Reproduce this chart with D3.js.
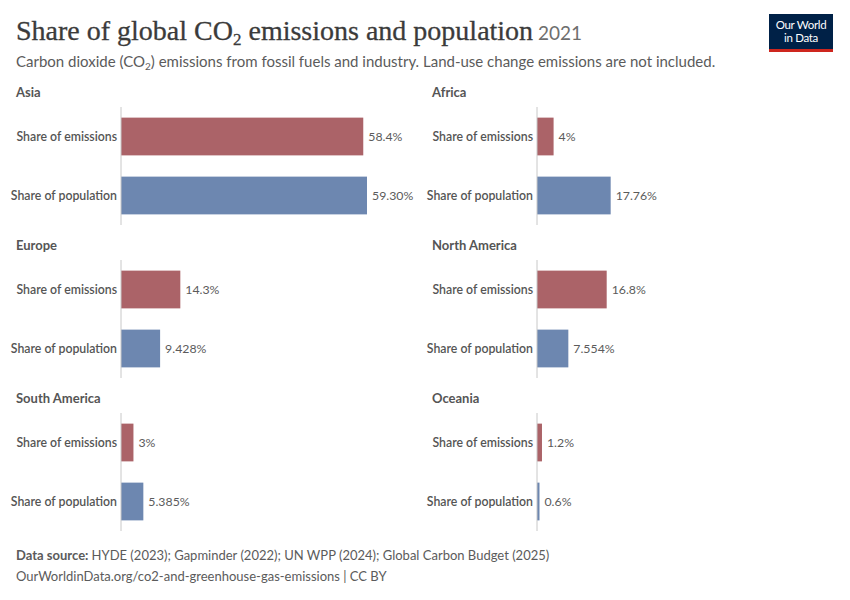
<!DOCTYPE html>
<html>
<head>
<meta charset="utf-8">
<script src="https://cdn.jsdelivr.net/npm/d3@7"></script>
<style>
  html, body { margin: 0; padding: 0; background: #fff; }
  svg { display: block; font-family: Lato, "Noto Sans", sans-serif; }
</style>
</head>
<body>
<svg id="chart" width="850" height="600"></svg>
<script>
// ---- Data ----
const regions = ["Asia", "Africa", "Europe", "North America", "South America", "Oceania"];
const emissionsShare = [58.4, 4, 14.3, 16.8, 3, 1.2];
const populationShare = [59.30, 17.76, 9.428, 7.554, 5.385, 0.6];
const emissionsLabels = ["58.4%", "4%", "14.3%", "16.8%", "3%", "1.2%"];
const populationLabels = ["59.30%", "17.76%", "9.428%", "7.554%", "5.385%", "0.6%"];
const seriesNames = ["Share of emissions", "Share of population"];
const seriesColors = ["#ab6368", "#6d87b0"];

const svg = d3.select("#chart");

// ---- Header ----
const title = svg.append("text").attr("x", 16).attr("y", 40)
  .attr("fill", "#3b3b3b").style("font-family", "'Liberation Serif', 'DejaVu Serif', serif")
  .style("font-size", "28px").attr("stroke", "#3b3b3b").attr("stroke-width", 0.3);
title.append("tspan").text("Share of global CO");
title.append("tspan").text("2").attr("dy", 5).style("font-size", "17px");
title.append("tspan").text(" emissions and population").attr("dy", -5);
title.append("tspan").text(" 2021").attr("fill", "#6e6e6e").attr("stroke", "none")
  .style("font-family", "Lato, sans-serif").style("font-size", "19px");

const sub = svg.append("text").attr("x", 16).attr("y", 67)
  .attr("fill", "#5b5b5b").style("font-size", "15px");
sub.append("tspan").text("Carbon dioxide (CO");
sub.append("tspan").text("2").attr("dy", 3).style("font-size", "10px");
sub.append("tspan").text(") emissions from fossil fuels and industry. Land-use change emissions are not included.").attr("dy", -3);

// Logo
const logo = svg.append("g");
logo.append("rect").attr("x", 769).attr("y", 14).attr("width", 64).attr("height", 38).attr("fill", "#002147");
logo.append("rect").attr("x", 769).attr("y", 49).attr("width", 64).attr("height", 3).attr("fill", "#ce261e");
logo.append("text").attr("x", 801).attr("y", 29).attr("text-anchor", "middle").attr("fill", "#fff")
  .style("font-size", "11.5px").style("letter-spacing", "-0.3px").text("Our World");
logo.append("text").attr("x", 801).attr("y", 42).attr("text-anchor", "middle").attr("fill", "#fff")
  .style("font-size", "11.5px").style("letter-spacing", "-0.3px").text("in Data");

// ---- Panels ----
const maxVal = d3.max(emissionsShare.concat(populationShare));
const x = d3.scaleLinear().domain([0, maxVal]).range([0, 246]);
const colAxisX = [121, 537];
const colTitleX = [16, 432];
const rowTop = [107, 260, 413];
const panelH = 118;

const y = d3.scaleBand().domain(seriesNames).range([0, panelH]).paddingInner(0.36).paddingOuter(0.18);
const color = d3.scaleOrdinal().domain(seriesNames).range(seriesColors);

regions.forEach((r, i) => {
  const col = i % 2, row = Math.floor(i / 2);
  const g = svg.append("g").attr("transform", `translate(${colAxisX[col]},${rowTop[row]})`);
  const vals = [
    { s: seriesNames[0], v: emissionsShare[i], lab: emissionsLabels[i] },
    { s: seriesNames[1], v: populationShare[i], lab: populationLabels[i] }
  ];
  svg.append("text").attr("x", colTitleX[col]).attr("y", rowTop[row] - 10)
    .attr("fill", "#555").style("font-size", "13px").style("font-weight", 700).text(r);

  g.selectAll("rect").data(vals).join("rect")
    .attr("x", 0).attr("y", d => y(d.s))
    .attr("width", d => x(d.v)).attr("height", y.bandwidth())
    .attr("fill", d => color(d.s));

  g.append("line").attr("x1", 0).attr("x2", 0).attr("y1", 0).attr("y2", panelH)
    .attr("stroke", "#c8c8c8").attr("stroke-width", 1);

  g.selectAll("text.cat").data(vals).join("text").attr("class", "cat")
    .attr("x", -4).attr("y", d => y(d.s) + y.bandwidth() / 2).attr("dy", "0.35em")
    .attr("text-anchor", "end").attr("fill", "#555").style("font-size", "12.3px").style("font-weight", 600)
    .text(d => d.s);

  g.selectAll("text.val").data(vals).join("text").attr("class", "val")
    .attr("x", d => x(d.v) + 5).attr("y", d => y(d.s) + y.bandwidth() / 2).attr("dy", "0.35em")
    .attr("fill", "#5b5b5b").style("font-size", "12.3px")
    .text(d => d.lab);
});

// ---- Footer ----
const f1 = svg.append("text").attr("x", 16).attr("y", 560).attr("fill", "#5b5b5b").style("font-size", "13px");
f1.append("tspan").text("Data source: ").style("font-weight", 700);
f1.append("tspan").text("HYDE (2023); Gapminder (2022); UN WPP (2024); Global Carbon Budget (2025)");
svg.append("text").attr("x", 16).attr("y", 581).attr("fill", "#5b5b5b").style("font-size", "13px")
  .text("OurWorldinData.org/co2-and-greenhouse-gas-emissions | CC BY");
</script>
</body>
</html>
